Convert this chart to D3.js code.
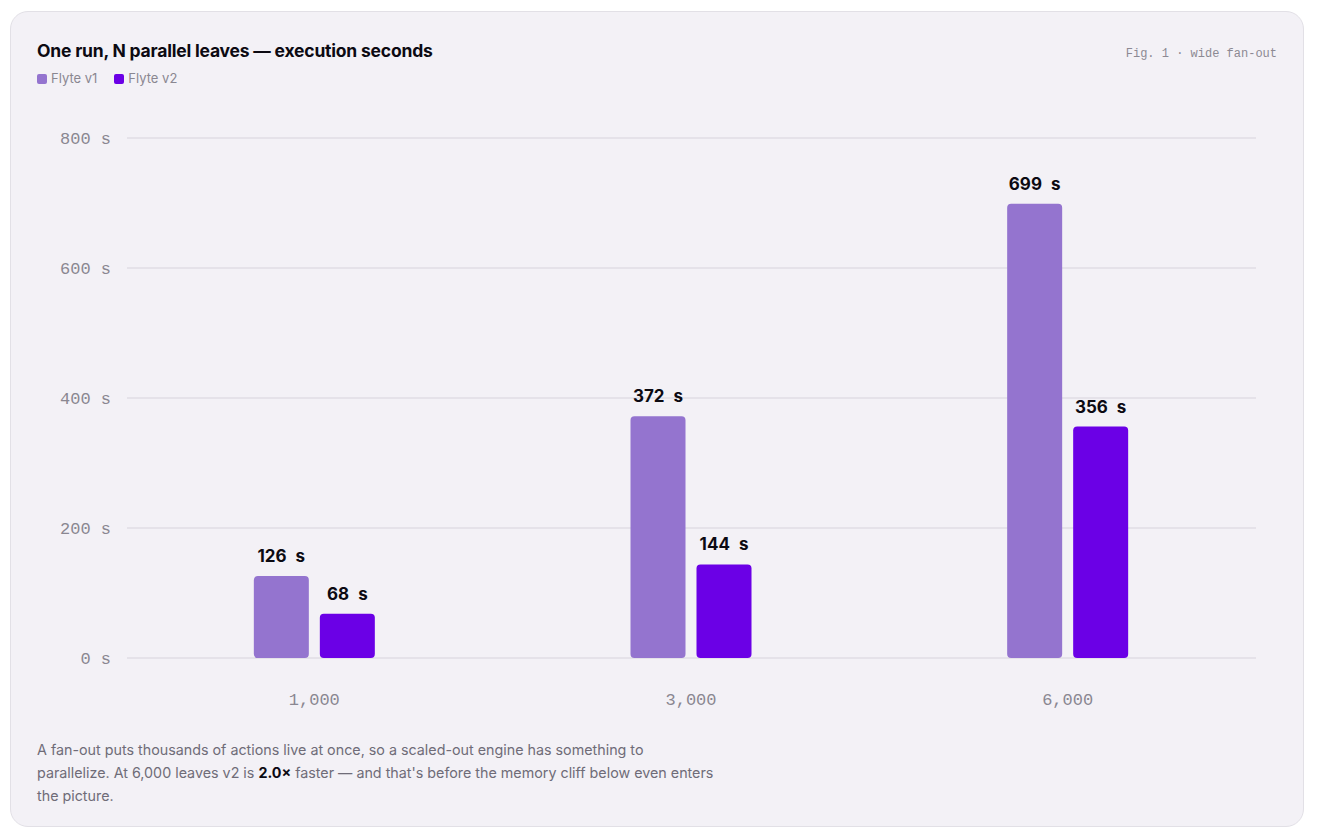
<!DOCTYPE html>
<html>
  <head>
    <title>One run, N parallel leaves</title>
    <script src="https://d3js.org/d3.v7.min.js"></script>
    <style>
      html, body {
        margin: 0;
        padding: 0;
        background: #ffffff;
      }

      #card {
        position: absolute;
        left: 10px;
        top: 11px;
        width: 1294px;
        height: 816px;
        box-sizing: border-box;
        background: #f3f1f6;
        border: 1px solid #e2e0e6;
        border-radius: 18px;
        font-family: Inter, "Noto Sans", sans-serif;
      }

      #title {
        position: absolute;
        left: 26px;
        top: 28px;
        margin: 0;
        font-size: 17.5px;
        font-weight: 700;
        color: #0c0a12;
        letter-spacing: -0.2px;
      }

      #fig {
        position: absolute;
        right: 26px;
        top: 35px;
        font-family: "Liberation Mono", "DejaVu Sans Mono", monospace;
        font-size: 12px;
        color: #8c8993;
      }

      #legend {
        position: absolute;
        left: 26px;
        top: 58px;
        font-size: 13px;
        color: #8a8791;
      }

      #legend span.item {
        margin-right: 17px;
      }

      #legend span.swatch {
        display: inline-block;
        width: 10px;
        height: 10px;
        border-radius: 2px;
        margin-right: 4px;
        vertical-align: -1px;
      }

      #note {
        position: absolute;
        left: 26px;
        top: 726px;
        margin: 0;
        white-space: nowrap;
        font-size: 14.3px;
        line-height: 23px;
        color: #6f6c78;
      }

      #note b {
        color: #0c0a12;
      }

      svg {
        position: absolute;
        left: 0;
        top: 0;
      }
    </style>
  </head>
  <body>
    <div id="card">
      <h1 id="title">One run, N parallel leaves — execution seconds</h1>
      <div id="fig">Fig. 1 · wide fan-out</div>
      <div id="legend"></div>
      <p id="note">A fan-out puts thousands of actions live at once, so a scaled-out engine has something to<br>parallelize. At 6,000 leaves v2 is <b>2.0×</b> faster — and that's before the memory cliff below even enters<br>the picture.</p>
    </div>
    <script>
      const leaves = ['1,000', '3,000', '6,000'];
      const series = ['Flyte v1', 'Flyte v2'];
      const v1Seconds = [126, 372, 699];
      const v2Seconds = [68, 144, 356];
      const yTicks = [0, 200, 400, 600, 800];

      const COLORS = {'Flyte v1': '#9474cf', 'Flyte v2': '#6b00e6'};

      const w = 1294;
      const h = 816;
      // plot area inside the card (card content starts at 11,12 on the page)
      const plotLeft = 116;
      const plotRight = 1245;
      const plotTop = 126;
      const plotBottom = 646;

      const rows = leaves.map((d, i) => ({leaves: d, values: [v1Seconds[i], v2Seconds[i]]}));

      const legend = d3.select('#legend');
      series.forEach(s => {
        const item = legend.append('span').attr('class', 'item');
        item.append('span').attr('class', 'swatch').style('background', COLORS[s]);
        item.append('span').text(s);
      });

      const x = d3.scaleBand()
                  .domain(leaves)
                  .range([plotLeft - 1, plotRight])
                  .padding(0);

      const xInner = d3.scaleBand()
                       .domain(series)
                       .range([0, 121])
                       .paddingInner(1 / 6);

      const y = d3.scaleLinear()
                  .domain([0, 800])
                  .range([plotBottom, plotTop]);

      const svg = d3.select('#card')
                    .append('svg')
                    .attr('width', w)
                    .attr('height', h);

      svg.append('g')
         .selectAll('line')
         .data(yTicks)
         .enter()
         .append('line')
         .attr('x1', plotLeft)
         .attr('x2', plotRight)
         .attr('y1', d => y(d))
         .attr('y2', d => y(d))
         .attr('stroke', '#e0dde5')
         .attr('stroke-width', 1.5);

      svg.append('g')
         .selectAll('text')
         .data(yTicks)
         .enter()
         .append('text')
         .text(d => `${d} s`)
         .attr('x', plotLeft - 16)
         .attr('y', d => y(d))
         .attr('dy', '0.35em')
         .attr('text-anchor', 'end')
         .style('font-family', '"Liberation Mono", "DejaVu Sans Mono", monospace')
         .style('font-size', '17px')
         .style('fill', '#8a8791');

      svg.append('g')
         .selectAll('text')
         .data(leaves)
         .enter()
         .append('text')
         .text(d => d)
         .attr('x', d => x(d) + x.bandwidth() / 2)
         .attr('y', plotBottom + 47)
         .attr('text-anchor', 'middle')
         .style('font-family', '"Liberation Mono", "DejaVu Sans Mono", monospace')
         .style('font-size', '17px')
         .style('fill', '#8a8791');

      const groups = svg.append('g')
                        .selectAll('g')
                        .data(rows)
                        .enter()
                        .append('g')
                        .attr('transform', d => `translate(${x(d.leaves) + x.bandwidth() / 2 - 60.5},0)`);

      const bars = groups.selectAll('g')
                         .data(d => d.values.map((v, i) => ({series: series[i], value: v})))
                         .enter()
                         .append('g');

      bars.append('path')
          .attr('d', d => {
            const bx = xInner(d.series);
            const bw = xInner.bandwidth();
            const by = y(d.value);
            const bh = y(0) - by;
            const r = 4;
            return `M${bx},${by + r}` +
                   `a${r},${r} 0 0 1 ${r},${-r}` +
                   `h${bw - 2 * r}` +
                   `a${r},${r} 0 0 1 ${r},${r}` +
                   `v${bh - 2 * r}` +
                   `a${r},${r} 0 0 1 ${-r},${r}` +
                   `h${-(bw - 2 * r)}` +
                   `a${r},${r} 0 0 1 ${-r},${-r}Z`;
          })
          .style('fill', d => COLORS[d.series]);

      bars.append('text')
          .text(d => `${d.value} s`)
          .attr('x', d => xInner(d.series) + xInner.bandwidth() / 2)
          .attr('y', d => y(d.value) - 14)
          .attr('text-anchor', 'middle')
          .style('font-family', 'Inter, "Noto Sans", sans-serif')
          .style('font-size', '17px')
          .style('font-weight', '700')
          .style('word-spacing', '5px')
          .style('fill', '#0c0a12');
    </script>
  </body>
</html>
